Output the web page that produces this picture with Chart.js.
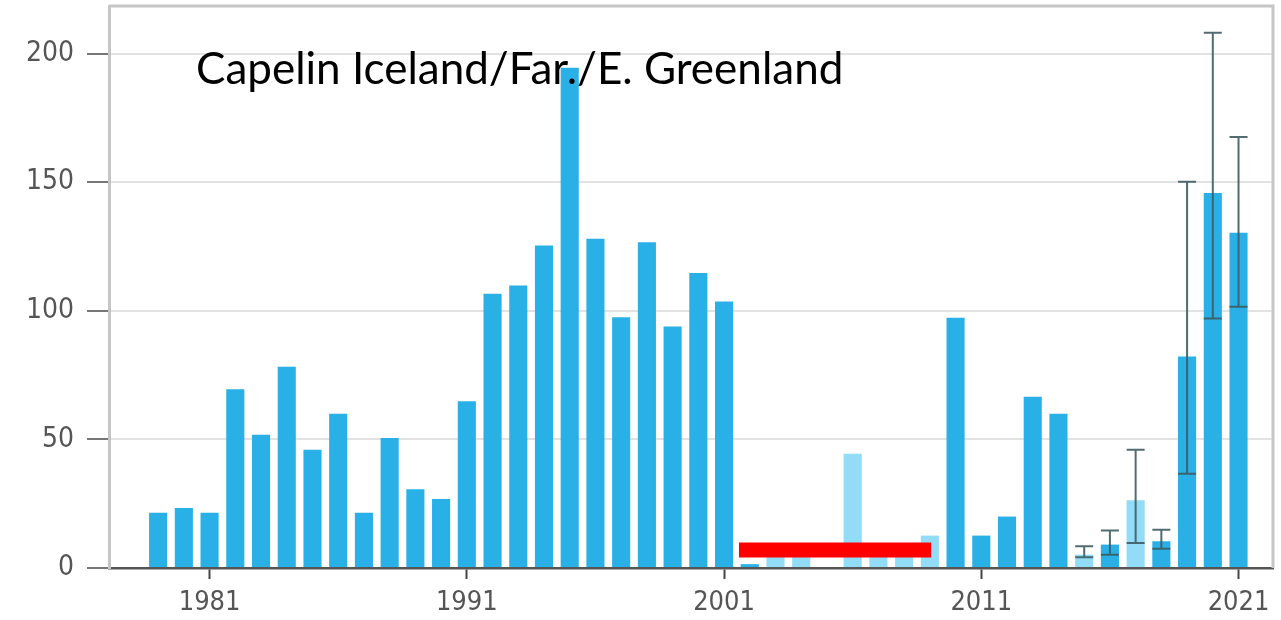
<!DOCTYPE html>
<html>
<head>
<meta charset="utf-8">
<script src="https://cdn.jsdelivr.net/npm/chart.js@4"></script>
<style>
  html, body { margin: 0; padding: 0; background: #fff; }
  #wrap { position: relative; width: 1281px; height: 620px; }
  #title { position: absolute; left: 196px; top: 41px; font-family: Lato, "Open Sans", sans-serif; font-size: 44px; color: #000; white-space: nowrap; }
</style>
</head>
<body>
<div id="wrap">
  <canvas id="c" width="1281" height="620"></canvas>
  <div id="title">Capelin Iceland/Far./E. Greenland</div>
</div>
<script>
// ---- data ----
const years = [1979,1980,1981,1982,1983,1984,1985,1986,1987,1988,1989,1990,1991,1992,1993,1994,1995,1996,1997,1998,1999,2000,2001,2002,2003,2004,2005,2006,2007,2008,2009,2010,2011,2012,2013,2014,2015,2016,2017,2018,2019,2020,2021];
// measured / full estimates (dark bars)
const mainValues = [21.5,23.3,21.5,69.5,51.8,78.2,46,60,21.5,50.5,30.6,26.8,64.8,106.6,109.8,125.4,194.5,128,97.5,126.6,93.9,114.7,103.6,1.5,null,null,null,null,null,null,null,97.3,12.6,20,66.6,60,null,9.1,null,10.4,82.2,145.8,130.3];
// partial estimates (light bars)
const partialValues = [null,null,null,null,null,null,null,null,null,null,null,null,null,null,null,null,null,null,null,null,null,null,null,null,6,6,null,44.4,5,5,12.6,null,null,null,null,null,5.2,null,26.3,null,null,null,null];
// error bar ranges
const errLow  = [null,null,null,null,null,null,null,null,null,null,null,null,null,null,null,null,null,null,null,null,null,null,null,null,null,null,null,null,null,null,null,null,null,null,null,null,4.2,5.2,9.7,7.5,36.6,97,101.6];
const errHigh = [null,null,null,null,null,null,null,null,null,null,null,null,null,null,null,null,null,null,null,null,null,null,null,null,null,null,null,null,null,null,null,null,null,null,null,null,8.5,14.6,46,14.9,150.2,208.1,167.6];
// red highlight band (data units: from year, to year, level)
const redBandYears = [2001.58, 2009.05];
const redBandLevel = 7;
// tick labels
const xTickYears = [1981,1991,2001,2011,2021];
const yTickValues = [0,50,100,150,200];

// ---- plugins ----
const frame = {
  id: 'frame',
  beforeDatasetsDraw(chart) {
    const {ctx, chartArea: a} = chart;
    ctx.save();
    ctx.strokeStyle = '#c6c6c6';
    ctx.lineWidth = 3;
    ctx.beginPath();
    ctx.moveTo(a.left, a.top);
    ctx.lineTo(a.right, a.top);
    ctx.lineTo(a.right, a.bottom);
    ctx.stroke();
    ctx.restore();
  }
};
const errorBars = {
  id: 'errorBars',
  afterDatasetsDraw(chart) {
    const {ctx, scales: {x, y}} = chart;
    ctx.save();
    ctx.strokeStyle = 'rgba(62,92,96,0.9)';
    ctx.lineWidth = 2;
    years.forEach((yr, i) => {
      if (errLow[i] == null) return;
      const px = x.getPixelForValue(yr);
      const lo = y.getPixelForValue(errLow[i]);
      const hi = y.getPixelForValue(errHigh[i]);
      ctx.beginPath();
      ctx.moveTo(px, lo); ctx.lineTo(px, hi);
      ctx.moveTo(px - 9, lo); ctx.lineTo(px + 9, lo);
      ctx.moveTo(px - 9, hi); ctx.lineTo(px + 9, hi);
      ctx.stroke();
    });
    ctx.restore();
  }
};

const zeroPad = s => { s.paddingTop = 0; s.paddingBottom = 0; s.paddingLeft = 0; s.paddingRight = 0; };

new Chart(document.getElementById('c'), {
  type: 'bar',
  data: {
    datasets: [
      {
        type: 'line',
        data: redBandYears.map(v => ({x: v, y: redBandLevel})),
        borderColor: '#ff0000',
        borderWidth: 15,
        borderCapStyle: 'butt',
        pointRadius: 0,
        order: 0
      },
      {
        data: years.map((yr, i) => ({x: yr, y: mainValues[i]})),
        backgroundColor: '#29b1e7',
        order: 2
      },
      {
        data: years.map((yr, i) => ({x: yr, y: partialValues[i]})),
        backgroundColor: '#93dcf7',
        order: 1
      }
    ]
  },
  options: {
    responsive: false,
    devicePixelRatio: 1,
    animation: false,
    layout: { padding: { left: 0, top: 6, right: 8, bottom: 0 } },
    datasets: { bar: { grouped: false, categoryPercentage: 0.8, barPercentage: 0.88 } },
    plugins: { legend: { display: false }, tooltip: { enabled: false } },
    scales: {
      x: {
        type: 'linear',
        min: 1977.09,
        max: 2022.34,
        offset: false,
        afterBuildTicks: s => { s.ticks = xTickYears.map(v => ({value: v})); },
        afterFit: s => { s.height = 52; zeroPad(s); },
        grid: { offset: false, drawOnChartArea: false, drawTicks: true, tickLength: 11, tickColor: '#444', tickWidth: 2 },
        border: { color: '#555', width: 2.5 },
        ticks: {
          callback: v => String(v),
          color: '#555',
          padding: 8,
          maxRotation: 0,
          font: { family: '"DejaVu Sans Condensed", "DejaVu Sans", sans-serif', size: 27 }
        }
      },
      y: {
        min: 0,
        max: 218.5,
        afterBuildTicks: s => { s.ticks = yTickValues.map(v => ({value: v})); },
        afterFit: s => { s.width = 109; zeroPad(s); },
        grid: { color: '#e2e2e2', lineWidth: 2, tickLength: 22, tickColor: '#777', tickWidth: 2 },
        border: { color: '#c6c6c6', width: 3 },
        ticks: {
          callback: v => String(v),
          color: '#555',
          padding: 13,
          font: { family: '"DejaVu Sans Condensed", "DejaVu Sans", sans-serif', size: 28 }
        }
      }
    }
  },
  plugins: [frame, errorBars]
});
</script>
</body>
</html>
